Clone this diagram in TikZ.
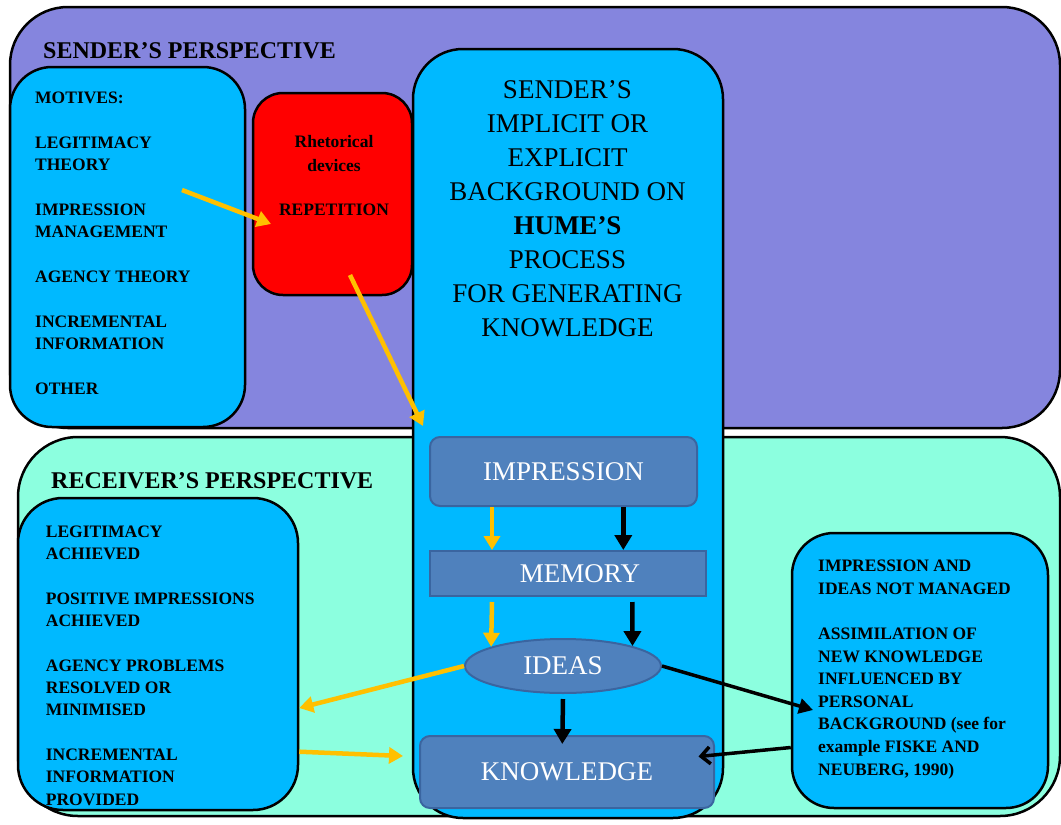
\documentclass[tikz,border=0pt]{standalone}
\usepackage{fontspec}
\setmainfont{Liberation Serif}
\usetikzlibrary{arrows.meta}
\usetikzlibrary{shapes}
\definecolor{senderbg}{HTML}{8585DE}
\definecolor{receiverbg}{HTML}{8CFFDF}
\definecolor{boxblue}{HTML}{00B9FF}
\definecolor{stageblue}{HTML}{4F81BD}
\definecolor{stageedge}{HTML}{3A65A0}
\definecolor{flowyellow}{HTML}{FFC000}
\newcommand{\titlefont}{\fontsize{24}{28}\selectfont\bfseries}
\newcommand{\listfont}{\fontsize{17.5}{22.4}\selectfont\bfseries}
\newcommand{\humefont}{\fontsize{27}{34.1}\selectfont}
\tikzset{
panel/.style={
  draw=black,
  line width=2.5pt,
  inner sep=0pt
  }
}
\tikzset{
stage/.style={
  draw=stageedge,
  line width=2pt,
  fill=stageblue,
  text=white,
  inner sep=0pt,
  font=\humefont
  }
}
\tikzset{
txt/.style={
  inner sep=0pt,
  align=left,
  anchor=north west,
  font=\listfont
  }
}
\tikzstyle{yflow} = [draw=flowyellow,line width=4.5pt,-{Triangle[width=16pt,length=14pt]}]
\tikzstyle{kflow} = [draw=black,line width=4.5pt,-{Triangle[width=17pt,length=15pt]}]
\tikzset{%
    boundingBox/.style={use as bounding box},
    }

\begin{document}
\begin{tikzpicture}[x=1pt, y=-1pt]
        \path[boundingBox] (0,0) rectangle (1061,825);
		%panels
		\node (sender) at (535,217.5) [panel, fill=senderbg, rounded corners=58pt, minimum width=1050pt, minimum height=421pt] {};
		\node (receiver) at (539,626.5) [panel, fill=receiverbg, rounded corners=60pt, minimum width=1042pt, minimum height=379pt] {};
		\node (motives) at (127.5,247) [panel, fill=boxblue, rounded corners=42pt, minimum width=235pt, minimum height=360pt] {};
		\node (devices) at (332.5,194) [panel, fill=red, rounded corners=30pt, minimum width=159pt, minimum height=202pt] {};
		\node (hume) at (568,433.5) [panel, fill=boxblue, rounded corners=50pt, minimum width=310pt, minimum height=769pt] {};
		\node (outcomes) at (158,654) [panel, fill=boxblue, rounded corners=45pt, minimum width=280pt, minimum height=312pt] {};
		\node (assim) at (920,670.5) [panel, fill=boxblue, rounded corners=42pt, minimum width=256pt, minimum height=275pt] {};

		%texts
		\node (sendertitle) at (43,42) [txt, font=\titlefont] {SENDER'S PERSPECTIVE};
		\node (receivertitle) at (51,472) [txt, font=\titlefont] {RECEIVER'S PERSPECTIVE};
		\node (motivestext) at (35,91.7) [txt] {MOTIVES:\\[22.4pt]
			LEGITIMACY\\ THEORY\\[22.4pt]
			IMPRESSION\\ MANAGEMENT\\[22.4pt]
			AGENCY THEORY\\[22.4pt]
			INCREMENTAL\\ INFORMATION\\[22.4pt]
			OTHER};
		\node (devicestext) at (334,135) [txt, anchor=north, align=center] {Rhetorical\\[1.6pt] devices\\[21.6pt] REPETITION};
		\node (humetext) at (567.5,80) [txt, anchor=north, align=center, font=\humefont] {SENDER'S\\ IMPLICIT OR\\ EXPLICIT\\ BACKGROUND ON\\ \textbf{HUME'S}\\ PROCESS\\ FOR GENERATING\\ KNOWLEDGE};
		\node (outcomestext) at (45.7,525.7) [txt, font=\fontsize{17.5}{22.3}\selectfont\bfseries] {LEGITIMACY\\ ACHIEVED\\[22.3pt]
			POSITIVE IMPRESSIONS\\ ACHIEVED\\[22.3pt]
			AGENCY PROBLEMS\\ RESOLVED OR\\ MINIMISED\\[22.3pt]
			INCREMENTAL\\ INFORMATION\\ PROVIDED};
		\node (assimtext) at (818,560) [txt, font=\fontsize{17.5}{22.6}\selectfont\bfseries] {IMPRESSION AND\\ IDEAS NOT MANAGED\\[22.6pt]
			ASSIMILATION OF\\ NEW KNOWLEDGE\\ INFLUENCED BY\\ PERSONAL\\ BACKGROUND (see for\\ example FISKE AND\\ NEUBERG, 1990)};

		%stages
		\node (impr) at (563.5,471.5) [stage, rounded corners=10pt, minimum width=267pt, minimum height=69pt] {IMPRESSION};
		\node (mem) at (568,573.5) [stage, minimum width=276pt, minimum height=45pt] {\hspace*{24pt}MEMORY};
		\node (ideas) at (563,666) [stage, ellipse, minimum width=196pt, minimum height=54pt] {IDEAS};
		\node (know) at (567,772) [stage, rounded corners=10pt, minimum width=294pt, minimum height=72pt] {KNOWLEDGE};

		%edges
		\coordinate (mout) at (182,190);
		\coordinate (din) at (271,224);
		\coordinate (dout) at (350,275);
		\coordinate (hin) at (423,426);
		\coordinate (kin) at (403,756);
		\coordinate (ain) at (813,710);
		\draw[yflow] (mout) -- (din);
		\draw[yflow] (dout) -- (hin);
		\draw[yflow] ([xshift=-71.5pt]impr.south) -- ([xshift=-76pt]mem.north);
		\draw[kflow] ([xshift=59.8pt]impr.south) -- ([xshift=55.3pt]mem.north);
		\draw[yflow] ([xshift=-76pt,yshift=-5pt]mem.south) -- (ideas.165);
		\draw[kflow] ([xshift=64.3pt,yshift=-5pt]mem.south) -- (ideas.16);
		\draw[kflow] ([yshift=-5pt]ideas.south) -- ([xshift=-4.7pt,yshift=-9pt]know.north);
		\draw[yflow] (ideas.west) -- ([yshift=-54pt]outcomes.east);
		\draw[yflow] ([yshift=-97.7pt]outcomes.east) -- (kin);
		\draw[kflow, line width=3.5pt, -{Triangle[width=15pt,length=14pt]}] (ideas.east) -- (ain);
		\draw[draw=black, line width=3.5pt, -{Straight Barb[width=17pt,length=9pt]}] ([yshift=-77pt]assim.west) -- ([xshift=-16.5pt,yshift=15.5pt]know.east);
\end{tikzpicture}
\end{document}
